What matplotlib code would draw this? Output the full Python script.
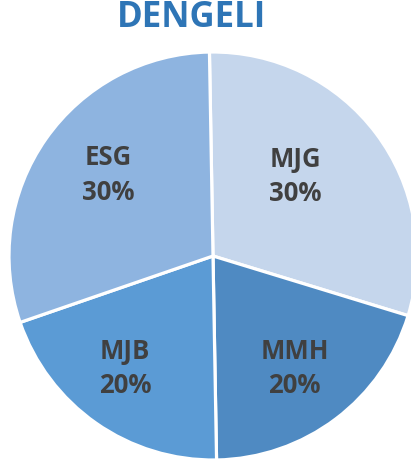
import numpy as np
import matplotlib
matplotlib.use("Agg")
import matplotlib.pyplot as plt

plt.rcParams['font.family'] = ['Open Sans', 'DejaVu Sans']

# data
labels = ["MJG", "MMH", "MJB", "ESG"]
shares = [30, 20, 20, 30]
colors = ["#c5d6ec", "#4f8ac2", "#5b9bd5", "#8eb4e0"]
label_r = [0.56, 0.68, 0.70, 0.65]     # how far out each label sits
label_turn = [7, -1, -3, -2.6]         # small angle nudge (deg)

fig = plt.figure(figsize=(4.11, 4.70), dpi=100)
W, H = 411, 470
cx, cy, r = 213, 256, 204
ax = fig.add_axes([(cx - r) / W, (H - cy - r) / H, 2 * r / W, 2 * r / H])

wedges, _ = ax.pie(shares, colors=colors, startangle=91, counterclock=False,
                   radius=1, wedgeprops=dict(edgecolor="white", linewidth=2.3))

total = sum(shares)
for w, lab, val, lr, dt in zip(wedges, labels, shares, label_r, label_turn):
    ang = np.deg2rad((w.theta1 + w.theta2) / 2 + dt)
    x, y = lr * np.cos(ang), lr * np.sin(ang)
    ax.text(x, y, f"{lab}\n{val / total:.0%}", ha="center", va="center",
            fontsize=18.5, fontweight="bold", color="#404040", linespacing=1.35)

ax.set_xlim(-1, 1)
ax.set_ylim(-1, 1)
ax.set_aspect("equal")
ax.axis("off")

fig.text(191 / W, 1 - 27 / H, "DENGELI", ha="center", va="baseline",
         fontsize=25, fontweight="bold", color="#2e75b6")

fig.savefig("out.png", dpi=100)
